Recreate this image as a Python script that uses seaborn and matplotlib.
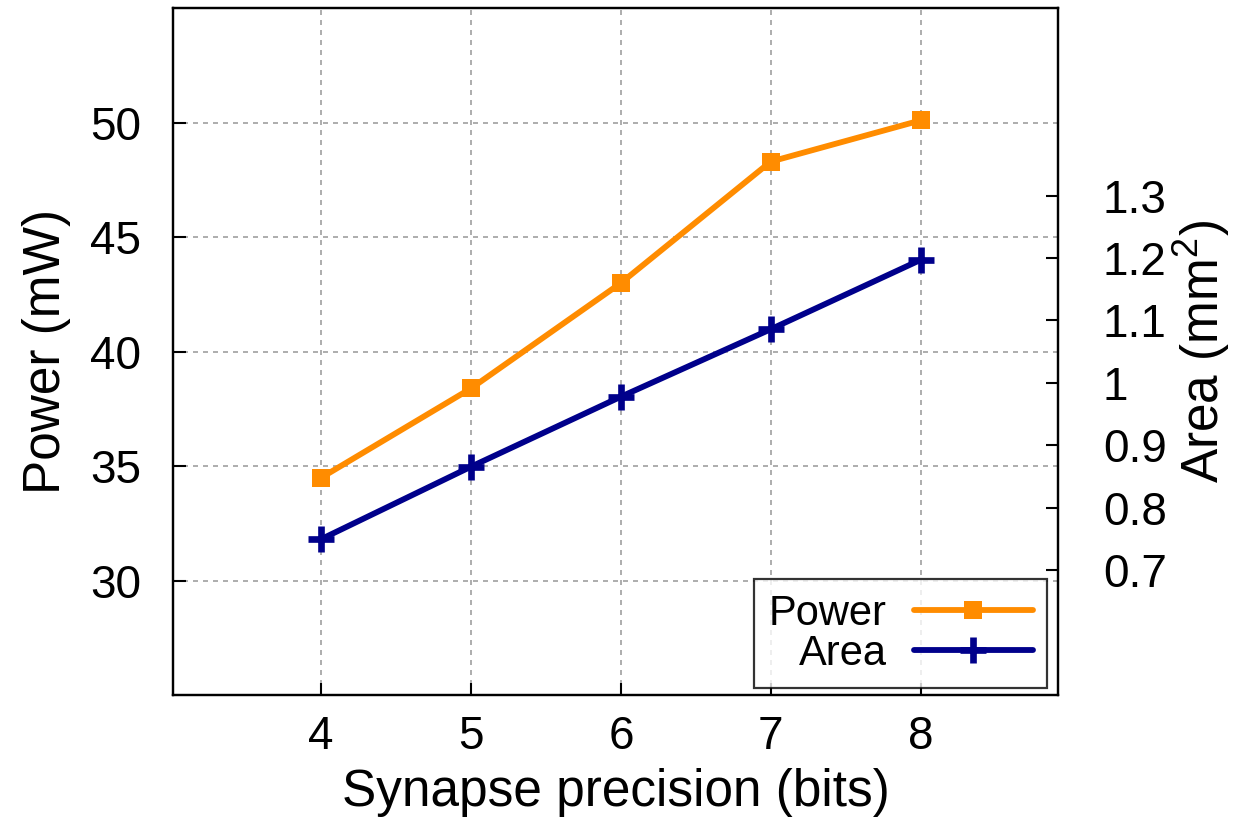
import matplotlib
matplotlib.use("Agg")
import matplotlib.pyplot as plt
from matplotlib.ticker import FormatStrFormatter
import seaborn as sns
import pandas as pd

# data
bits = [4, 5, 6, 7, 8]
power_mw = [34.5, 38.4, 43.0, 48.3, 50.1]
area_mm2 = [0.75, 0.866, 0.978, 1.086, 1.197]

df = pd.DataFrame({"bits": bits, "power": power_mw, "area": area_mm2})

sns.set_style("white")
plt.rcParams["font.family"] = ["Liberation Sans", "DejaVu Sans"]
plt.rcParams["mathtext.fontset"] = "custom"
plt.rcParams["mathtext.rm"] = "Liberation Sans"
plt.rcParams["text.color"] = "black"
plt.rcParams["axes.labelcolor"] = "black"

fig = plt.figure(figsize=(12.35, 8.17), dpi=100)
ax = fig.add_axes([0.140, 0.149, 0.717, 0.841])
ax2 = ax.twinx()

orange = "#ff8c00"
navy = "#00008b"

sns.lineplot(data=df, x="bits", y="power", ax=ax, color=orange, lw=4.2,
             marker="s", markersize=13, markeredgewidth=0, label="Power", legend=False)
sns.lineplot(data=df, x="bits", y="area", ax=ax2, color=navy, lw=4.2,
             marker="+", markersize=19, markeredgewidth=4.8, markeredgecolor=navy,
             label="Area", legend=False)

ax.set_xlim(3.01, 8.92)
ax.set_ylim(25, 55)
ax2.set_ylim(0.5, 1.6)
ax.set_xticks(bits)
ax.set_yticks([30, 35, 40, 45, 50])
ax2.set_yticks([0.7, 0.8, 0.9, 1.0, 1.1, 1.2, 1.3])
ax2.yaxis.set_major_formatter(FormatStrFormatter("%g"))

ax.grid(True, color="#a0a0a0", linestyle=(0, (3, 3)), linewidth=1.2)
ax2.grid(False)

for a in (ax, ax2):
    for s in a.spines.values():
        s.set_linewidth(1.6)
        s.set_color("black")
    a.tick_params(direction="in", length=9, width=1.5, labelsize=33,
                  colors="black", labelcolor="black")
ax.tick_params(axis="y", right=False, left=True, pad=23)
ax.tick_params(axis="x", bottom=True, top=False, pad=14)
ax2.tick_params(axis="y", right=True, left=False, pad=32)

ax.set_xlabel("Synapse precision (bits)", fontsize=37, labelpad=7)
ax.set_ylabel("Power (mW)", fontsize=37, labelpad=14)
ax2.set_ylabel("Area (mm$^2$)", fontsize=37, labelpad=3)

h1, l1 = ax.get_legend_handles_labels()
h2, l2 = ax2.get_legend_handles_labels()
leg = ax2.legend(h1 + h2, l1 + l2, loc="lower right", markerfirst=False,
                 fontsize=30, frameon=True, fancybox=False, handlelength=2.85,
                 borderaxespad=0, labelspacing=0.0, handletextpad=0.65,
                 borderpad=0.35, bbox_to_anchor=(0.9876, 0.0102))
leg.get_frame().set_edgecolor("black")
leg.get_frame().set_linewidth(1.6)
for t in leg.get_texts():
    t.set_ha("right")

fig.savefig("out.png", dpi=100)
